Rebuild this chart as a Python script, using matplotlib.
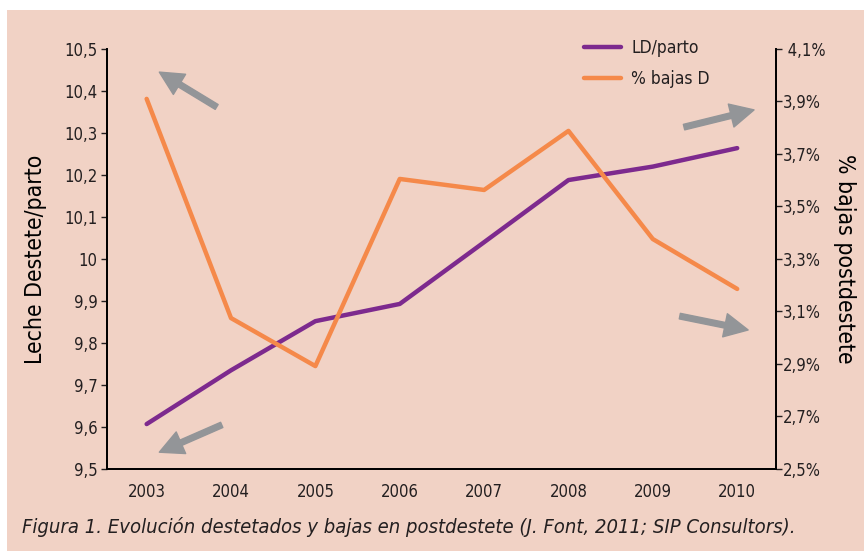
import matplotlib.pyplot as plt
from matplotlib.patches import Rectangle

years = [2003, 2004, 2005, 2006, 2007, 2008, 2009, 2010]
ld_parto = [9.607, 9.735, 9.852, 9.893, 10.04, 10.188, 10.22, 10.264]
bajas_d = [3.91, 3.075, 2.892, 3.605, 3.563, 3.788, 3.376, 3.186]

left_ticks = [9.5, 9.6, 9.7, 9.8, 9.9, 10.0, 10.1, 10.2, 10.3, 10.4, 10.5]
left_labels = ['9,5', '9,6', '9,7', '9,8', '9,9', '10', '10,1', '10,2', '10,3', '10,4', '10,5']
right_ticks = [2.5, 2.7, 2.9, 3.1, 3.3, 3.5, 3.7, 3.9, 4.1]
right_labels = ['2,5%', '2,7%', '2,9%', '3,1%', '3,3%', '3,5%', '3,7%', '3,9%', ' 4,1%']

# flechas decorativas (cola, punta) en coordenadas del eje izquierdo
arrows = [((2003.83, 10.362), (2003.15, 10.445)),
          ((2009.37, 10.314), (2010.20, 10.355)),
          ((2009.32, 9.864), (2010.13, 9.831)),
          ((2003.89, 9.605), (2003.15, 9.540))]

purple = '#7d2a8e'
orange = '#f5894a'
bg = '#f1d2c5'
grey = '#939598'
plt.rcParams['font.family'] = ['DejaVu Sans']
plt.rcParams['font.stretch'] = 'condensed'
plt.rcParams['text.color'] = '#231f20'
plt.rcParams['ytick.color'] = '#231f20'
plt.rcParams['xtick.color'] = '#231f20'

fig = plt.figure(figsize=(8.64, 5.51), dpi=100, facecolor='white')
fig.patches.append(Rectangle((7 / 864, 0), 1, (551 - 10) / 551, transform=fig.transFigure,
                             facecolor=bg, edgecolor='none', zorder=-10))

ax = fig.add_axes([107 / 864, (551 - 469) / 551, (776 - 107) / 864, (469 - 49) / 551])
ax.set_facecolor('none')
ax2 = ax.twinx()

l1, = ax.plot(years, ld_parto, color=purple, lw=3.2, solid_capstyle='round', label='LD/parto')
l2, = ax2.plot(years, bajas_d, color=orange, lw=3.2, solid_capstyle='round', label='% bajas D')

ax.set_xlim(2002.53, 2010.46)
ax.set_ylim(9.5, 10.5)
ax2.set_ylim(2.5, 4.1)

ax.set_xticks(years)
ax.set_xticklabels([str(y) for y in years], fontsize=12)
ax.tick_params(axis='x', length=0, pad=10)
ax.set_yticks(left_ticks)
ax.set_yticklabels(left_labels, fontsize=12)
ax.tick_params(axis='y', length=4, width=1, pad=3)
ax2.set_yticks(right_ticks)
ax2.set_yticklabels(right_labels, fontsize=12)
ax2.tick_params(axis='y', length=4, width=1, pad=1)

for a in (ax, ax2):
    a.spines['top'].set_visible(False)
    for s in ('left', 'right', 'bottom'):
        a.spines[s].set_linewidth(1.3)

ax.set_ylabel('Leche Destete/parto', fontsize=16.5, labelpad=12)
ax2.set_ylabel('% bajas postdestete', fontsize=16.5, rotation=270, labelpad=22)

for tail, head in arrows:
    ax.annotate('', xy=head, xytext=tail, annotation_clip=False,
                arrowprops=dict(arrowstyle='simple,head_length=1.0,head_width=1.0,tail_width=0.24',
                                color=grey, mutation_scale=17, shrinkA=0, shrinkB=0))

ax.legend(handles=[l1, l2], loc='upper left', bbox_to_anchor=(0.69, 1.06), frameon=False,
          fontsize=12.5, handlelength=2.1, handletextpad=0.6, labelspacing=0.7)

fig.text(22 / 864, 1 - 527 / 551, 'Figura 1. Evolución destetados y bajas en postdestete '
         '(J. Font, 2011; SIP Consultors).', fontsize=14.5, style='italic', va='center', ha='left')

fig.savefig('out.png', dpi=100, facecolor='white')
